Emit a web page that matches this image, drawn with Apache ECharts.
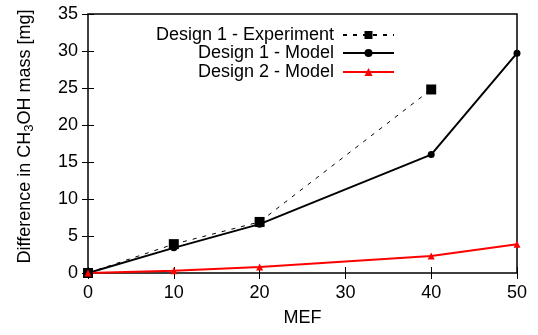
<!DOCTYPE html>
<html>
<meta charset="utf-8" />
<head>
  <script src="https://cdn.jsdelivr.net/npm/echarts@6.0.0/dist/echarts.min.js"></script>
  <style>
    body { margin: 0; background: #fff; }
    #chart { width: 538px; height: 335px; }
  </style>
</head>
<body>
  <div id="chart"></div>
  <script>
    // values
    const mefExp = [0, 10, 20, 40];
    const design1Exp = [0, 3.9, 6.9, 24.8];
    const mefModel = [0, 10, 20, 40, 50];
    const design1Model = [0, 3.4, 6.6, 16.0, 29.7];
    const design2Model = [0, 0.3, 0.8, 2.3, 3.9];
    const names = ["Design 1 - Experiment", "Design 1 - Model", "Design 2 - Model"];

    const font = "Liberation Sans, Arial, sans-serif";
    const pairs = (xs, ys) => xs.map((x, i) => [x, ys[i]]);

    // one legend per entry so the samples line up on the right
    const legendFor = (name, top) => ({
      data: [name],
      orient: "vertical",
      align: "right",
      right: 138,
      top: top,
      itemWidth: 51,
      itemHeight: 10,
      itemGap: 0,
      textStyle: { fontFamily: font, fontSize: 18, color: "#000", padding: [0, 4, 0, 0] },
      selectedMode: false,
    });

    const tickInside = { show: true, inside: true, length: 6, lineStyle: { color: "#000", width: 1 } };
    const chart = echarts.init(document.getElementById("chart"));
    chart.setOption({
      animation: false,
      textStyle: { fontFamily: font },
      grid: {
        left: 88, right: 21, top: 14, bottom: 62,
        show: true, borderColor: "#000", borderWidth: 1.5,
      },
      legend: [legendFor(names[0], 21), legendFor(names[1], 39), legendFor(names[2], 58)],
      xAxis: [
        {
          type: "value", min: 0, max: 50, interval: 10,
          name: "MEF", nameLocation: "middle", nameGap: 36,
          nameTextStyle: { fontSize: 18, color: "#000" },
          axisLine: { show: false },
          axisTick: tickInside,
          axisLabel: { fontSize: 18, color: "#000", margin: 11 },
          splitLine: { show: false },
        },
        {
          type: "value", position: "top", min: 0, max: 50, interval: 10,
          axisLine: { show: false }, axisTick: tickInside,
          axisLabel: { show: false }, splitLine: { show: false },
        },
      ],
      yAxis: [
        {
          type: "value", min: 0, max: 35, interval: 5,
          name: "Difference in CH{sub|3}OH mass [mg]",
          nameLocation: "middle", nameGap: 54, nameRotate: 90,
          nameTextStyle: {
            fontSize: 18, color: "#000", padding: [0, 0, 0, 14],
            rich: { sub: { fontSize: 13, color: "#000", padding: [0, 0, -8, 0] } },
          },
          axisLine: { show: false },
          axisTick: tickInside,
          axisLabel: { fontSize: 18, color: "#000", margin: 10 },
          splitLine: { show: false },
        },
        {
          type: "value", position: "right", min: 0, max: 35, interval: 5,
          axisLine: { show: false }, axisTick: tickInside,
          axisLabel: { show: false }, splitLine: { show: false },
        },
      ],
      series: [
        {
          name: names[0], type: "line", data: pairs(mefExp, design1Exp),
          symbol: "rect", symbolSize: 10,
          itemStyle: { color: "#000" },
          lineStyle: { color: "#000", width: 1, type: [4, 6] },
        },
        {
          name: names[1], type: "line", data: pairs(mefModel, design1Model),
          symbol: "circle", symbolSize: 7,
          itemStyle: { color: "#000" },
          lineStyle: { color: "#000", width: 2 },
        },
        {
          name: names[2], type: "line", data: pairs(mefModel, design2Model),
          symbol: "triangle", symbolSize: 7,
          itemStyle: { color: "#ff0000" },
          lineStyle: { color: "#ff0000", width: 2 },
        },
      ],
    });
  </script>
</body>
</html>
